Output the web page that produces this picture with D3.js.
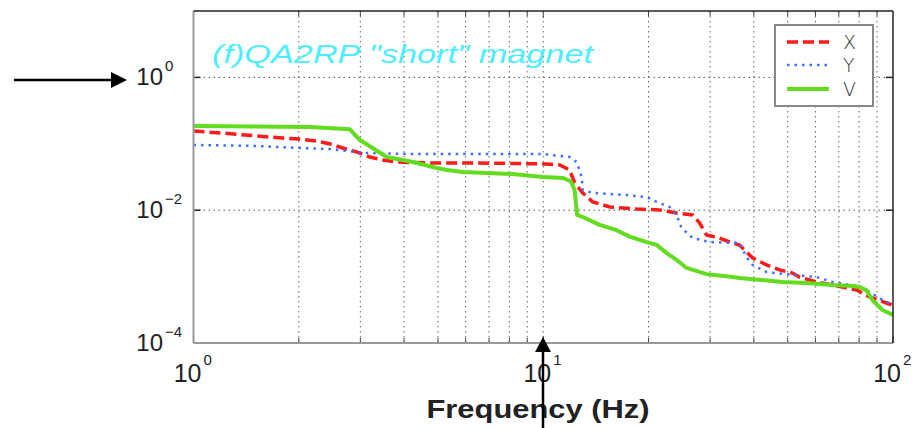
<!DOCTYPE html>
<html><head><meta charset="utf-8">
<script src="https://cdn.jsdelivr.net/npm/d3@7"></script>
<style>html,body{margin:0;padding:0;background:#fff;}svg{display:block;}</style>
</head><body>
<svg id="c" width="914" height="428"></svg>
<script>
// ---- data ----
const xFreq = [1.0,1.21,1.52,1.8,2.0,2.25,2.46,2.67,2.93,3.19,3.48,3.8,4.74,6.59,10.2,11.15,11.9,12.3,12.97,13.85,15.5,18.5,21.5,24.06,26.74,28.0,29.3,31.9,34.1,36.4,39.7,43.5,47.4,51.6,54.0,60.4,71.7,78.7,85.7,95.8,100];
const xVals = [0.156,0.145,0.131,0.122,0.118,0.110,0.0993,0.0865,0.0753,0.0633,0.057,0.0532,0.0514,0.0514,0.0497,0.048,0.0403,0.0257,0.0182,0.0133,0.0112,0.0104,0.0101,0.00907,0.00847,0.00641,0.00424,0.00381,0.00332,0.00299,0.00191,0.0015,0.00126,0.00113,0.000986,0.000829,0.000697,0.000628,0.000493,0.0004,0.00037];

const yFreq = [1.0,1.52,2.0,2.45,2.75,3.13,4.24,5.3,10.0,11.9,12.46,12.88,12.97,13.85,17.3,19.76,21.1,22.98,24.06,24.87,26.74,29.9,36.4,38.1,39.7,43.5,51.6,60.4,67.2,78.7,84.0,93.3,100];
const yVals = [0.096,0.0927,0.0865,0.0836,0.0779,0.0727,0.07,0.07,0.07,0.0633,0.0532,0.0316,0.0201,0.0182,0.0169,0.0158,0.0133,0.0112,0.00847,0.00539,0.00381,0.00332,0.00321,0.00197,0.0015,0.00117,0.00106,0.000986,0.000829,0.000722,0.000628,0.000444,0.00037];

const vFreq = [1.0,2.15,2.8,2.99,3.57,4.24,4.96,5.3,5.89,8.18,9.97,11.37,11.75,12.0,12.3,12.5,12.97,14.5,16.2,17.67,19.76,21.1,22.54,24.06,25.7,29.3,34.8,36.4,48.3,56.6,67.2,76.6,80.25,84.0,87.4,93.3,100];
const vVals = [0.185,0.179,0.165,0.114,0.0633,0.0532,0.0432,0.0403,0.0376,0.0351,0.0316,0.0306,0.0285,0.027,0.020,0.0085,0.0079,0.0060,0.0050,0.0040,0.0033,0.0030,0.00226,0.00178,0.00135,0.00109,0.000986,0.000952,0.000829,0.000801,0.000747,0.000722,0.000697,0.00062,0.00044,0.000314,0.000264];

const seriesNames = ["X","Y","V"];
const xTickLabels = [{b:"10",e:"0",v:1},{b:"10",e:"1",v:10},{b:"10",e:"2",v:100}];
const yTickLabels = [{b:"10",e:"0",v:1},{b:"10",e:"\u22122",v:1e-2},{b:"10",e:"\u22124",v:1e-4}];
const titleText = '(f)QA2RP "short" magnet';
const xAxisTitle = "Frequency (Hz)";

// ---- layout ----
const L = 193.5, R = 893, T = 11, B = 343;
const svg = d3.select("#c");
const x = d3.scaleLog().domain([1,100]).range([L,R]);
const y = d3.scaleLog().domain([1e-4,10]).range([B,T]);

// grid
const minorX = [];
for (let d=1; d<100; d*=10) for (let k=2;k<=9;k++) minorX.push(d*k);
minorX.push(10);
const g = svg.append("g");
g.selectAll(".vg").data(minorX).join("line")
  .attr("x1",d=>x(d)).attr("x2",d=>x(d)).attr("y1",T).attr("y2",B)
  .attr("stroke","#666").attr("stroke-width",1).attr("stroke-dasharray","1.5,3.5");
g.selectAll(".hg").data([1,1e-2]).join("line")
  .attr("x1",L).attr("x2",R).attr("y1",d=>y(d)).attr("y2",d=>y(d))
  .attr("stroke","#555").attr("stroke-width",1).attr("stroke-dasharray","1.5,3.5");

// ticks
const tk = svg.append("g");
tk.selectAll(".xb").data(minorX.concat([1,100])).join("line")
  .attr("x1",d=>x(d)).attr("x2",d=>x(d)).attr("y1",B).attr("y2",d=>[1,10,100].includes(d)?B-7:B-5)
  .attr("stroke","#444").attr("stroke-width",1);
tk.selectAll(".xt").data(minorX).join("line")
  .attr("x1",d=>x(d)).attr("x2",d=>x(d)).attr("y1",T).attr("y2",d=>d===10?T+7:T+5)
  .attr("stroke","#444").attr("stroke-width",1);
tk.selectAll(".yl").data([1,1e-2]).join("line")
  .attr("x1",L).attr("x2",L+7).attr("y1",d=>y(d)).attr("y2",d=>y(d))
  .attr("stroke","#222").attr("stroke-width",1.5);
tk.selectAll(".yr").data([1,1e-2]).join("line")
  .attr("x1",R).attr("x2",R-7).attr("y1",d=>y(d)).attr("y2",d=>y(d))
  .attr("stroke","#222").attr("stroke-width",1.5);

// clip
svg.append("clipPath").attr("id","pc").append("rect")
  .attr("x",L).attr("y",T).attr("width",R-L).attr("height",B-T);

const line = d3.line().x(d=>x(d[0])).y(d=>y(d[1]));
const zip = (a,b)=>a.map((v,i)=>[v,b[i]]);
const pl = svg.append("g").attr("clip-path","url(#pc)");
pl.append("path").datum(zip(xFreq,xVals)).attr("d",line)
  .attr("fill","none").attr("stroke","#ff1a1a").attr("stroke-width",3.5).attr("stroke-dasharray","11,5");
pl.append("path").datum(zip(yFreq,yVals)).attr("d",line)
  .attr("fill","none").attr("stroke","#3f6fff").attr("stroke-width",2.5).attr("stroke-dasharray","2.5,5");
pl.append("path").datum(zip(vFreq,vVals)).attr("d",line)
  .attr("fill","none").attr("stroke","#62dc1e").attr("stroke-width",4).attr("stroke-linejoin","round");

// frame
svg.append("line").attr("x1",L).attr("x2",L).attr("y1",T).attr("y2",B).attr("stroke","#999").attr("stroke-width",2);
svg.append("line").attr("x1",L).attr("x2",R).attr("y1",B).attr("y2",B).attr("stroke","#999").attr("stroke-width",2);
svg.append("line").attr("x1",L).attr("x2",R).attr("y1",T).attr("y2",T).attr("stroke","#222").attr("stroke-width",1.5);
svg.append("line").attr("x1",R).attr("x2",R).attr("y1",T).attr("y2",B).attr("stroke","#222").attr("stroke-width",1.5);

// title inside
svg.append("text").attr("x",212).attr("y",63).text(titleText)
  .attr("font-family","Liberation Sans, Arial, sans-serif").attr("font-style","italic")
  .attr("font-size",26).attr("fill","#4eeeff")
  .attr("textLength",381).attr("lengthAdjust","spacingAndGlyphs");

// legend
const lg = svg.append("g");
lg.append("rect").attr("x",775).attr("y",25).attr("width",98).attr("height",81)
  .attr("fill","#fff").attr("stroke","#888").attr("stroke-width",2);
const legStyles = [
  {c:"#ff1a1a",w:3.5,da:"11,5"},
  {c:"#3f6fff",w:2.5,da:"2.5,5"},
  {c:"#62dc1e",w:4,da:null}];
const legY = [42,65,89];
seriesNames.forEach((n,i)=>{
  const s = legStyles[i];
  const ln = lg.append("line").attr("x1",787).attr("x2",829).attr("y1",legY[i]).attr("y2",legY[i])
    .attr("stroke",s.c).attr("stroke-width",s.w);
  if (s.da) ln.attr("stroke-dasharray",s.da);
  lg.append("text").attr("x",843).attr("y",legY[i]+7).text(n)
    .attr("font-family","DejaVu Sans, sans-serif").attr("font-weight",300)
    .attr("font-size",19).attr("fill","#333");
});

// axis labels
const lab = svg.append("g").attr("font-family","Liberation Sans, Arial, sans-serif").attr("fill","#222");
yTickLabels.forEach(t=>{
  const yy = y(t.v);
  lab.append("text").attr("x",163).attr("y",yy+8).attr("text-anchor","end").attr("font-size",24).text(t.b);
  lab.append("text").attr("x",165).attr("y",yy-6).attr("font-size",15).text(t.e);
});
xTickLabels.forEach(t=>{
  const xx = x(t.v);
  lab.append("text").attr("x",xx+8).attr("y",382).attr("text-anchor","end").attr("font-size",25).text(t.b);
  lab.append("text").attr("x",xx+10).attr("y",365).attr("font-size",15).text(t.e);
});
svg.append("text").attr("x",538).attr("y",418).attr("text-anchor","middle").text(xAxisTitle)
  .attr("font-family","Liberation Sans, Arial, sans-serif").attr("font-weight","bold")
  .attr("font-size",26).attr("fill","#222")
  .attr("textLength",223).attr("lengthAdjust","spacingAndGlyphs");

// arrows
svg.append("line").attr("x1",14).attr("x2",112).attr("y1",80).attr("y2",80).attr("stroke","#000").attr("stroke-width",2.5);
svg.append("path").attr("d","M111,72 L127,80 L111,88 Z").attr("fill","#000");
svg.append("line").attr("x1",543).attr("x2",543).attr("y1",428).attr("y2",351).attr("stroke","#000").attr("stroke-width",2.5);
svg.append("path").attr("d","M535,352 L543,337 L551,352 Z").attr("fill","#000");
</script>
</body></html>
